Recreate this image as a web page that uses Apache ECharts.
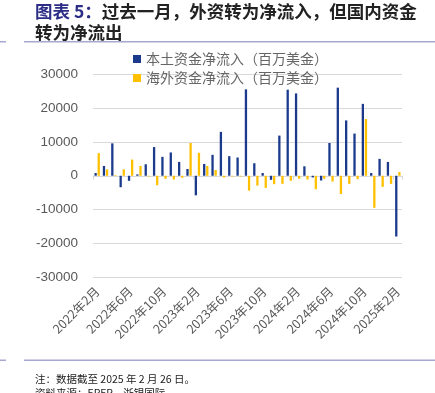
<!DOCTYPE html>
<html>
<head>
<meta charset="utf-8">
<script src="https://cdn.jsdelivr.net/npm/echarts@6/dist/echarts.min.js"></script>
<style>
html,body{margin:0;padding:0;background:#fff;}
#c{width:435px;height:393px;}
</style>
</head>
<body>
<div id="c"></div>
<script>
var months = ['2022年2月','2022年3月','2022年4月','2022年5月','2022年6月','2022年7月','2022年8月','2022年9月','2022年10月','2022年11月','2022年12月',
'2023年1月','2023年2月','2023年3月','2023年4月','2023年5月','2023年6月','2023年7月','2023年8月','2023年9月','2023年10月','2023年11月','2023年12月',
'2024年1月','2024年2月','2024年3月','2024年4月','2024年5月','2024年6月','2024年7月','2024年8月','2024年9月','2024年10月','2024年11月','2024年12月',
'2025年1月','2025年2月'];
var domestic = [800, 2900, 9600, -3400, -1500, 400, 3400, 8500, 5600, 6900, 4100, 2000, -5800, 3500, 6200, 13000, 5800, 5400,
25600, 3700, 800, -1200, 11900, 25500, 24400, 2800, -500, -1400, 9700, 26100, 16400, 12500, 21300, 800, 5000, 4100, -18000];
var foreign = [6700, 1900, 200, 1900, 4800, 2900, -200, -2800, -900, -1100, -600, 9700, 6800, 2900, 1700, -500, -200, -200,
-4400, -2900, -3600, -2500, -2400, -1500, -900, -1100, -4000, -900, -1700, -5400, -2400, -1000, 16800, -9500, -3300, -2400, 1100];
var seriesNames = ['本土资金净流入（百万美金）', '海外资金净流入（百万美金）'];
var yTicks = {min: -30000, max: 30000, interval: 10000};

var chart = echarts.init(document.getElementById('c'), null, {renderer: 'canvas'});
var font = '"Noto Sans CJK SC", "Noto Sans", sans-serif';
chart.setOption({
  animation: false,
  backgroundColor: '#fff',
  title: {
    left: 35, top: 1, padding: 0,
    text: '{a|图表 5：}{b|过去一月，外资转为净流入，但国内资金}\n{b|转为净流出}',
    textStyle: {
      rich: {
        a: {fontSize: 17.5, fontWeight: 'bold', color: '#2b2d86', fontFamily: font, lineHeight: 21},
        b: {fontSize: 17.5, fontWeight: 'bold', color: '#222', fontFamily: font, lineHeight: 21}
      }
    }
  },
  legend: {
    orient: 'vertical', left: 128, top: 47,
    itemWidth: 8, itemHeight: 8, itemGap: 5,
    icon: 'rect',
    textStyle: {fontSize: 14, color: '#666', fontFamily: font, padding: [0,0,0,0]},
    data: seriesNames
  },
  grid: {left: 93, right: 33, top: 74.5, bottom: 116, containLabel: false},
  xAxis: [{
    type: 'category', data: months,
    axisLine: {onZero: true, lineStyle: {color: '#d9d9d9'}},
    axisTick: {show: true, interval: 11, length: 4, lineStyle: {color: '#d9d9d9'}},
    axisLabel: {show: false}
  }, {
    type: 'category', data: months, position: 'bottom',
    axisLine: {show: false, onZero: false}, axisTick: {show: false},
    axisLabel: {interval: 3, rotate: 45, fontSize: 12.5, color: '#595959', fontFamily: font, margin: 12}
  }],
  yAxis: {
    type: 'value', min: yTicks.min, max: yTicks.max, interval: yTicks.interval,
    axisLine: {show: false}, axisTick: {show: false},
    axisLabel: {fontSize: 13.5, color: '#595959', fontFamily: '"Liberation Sans", Arial, sans-serif', margin: 15,
      formatter: function (v) { return String(v); }},
    splitLine: {lineStyle: {color: '#d9d9d9', width: 1}}
  },
  series: [
    {name: seriesNames[0], type: 'bar', xAxisIndex: 0, data: domestic, barWidth: 2.3, barGap: '35%', itemStyle: {color: '#1b3a8c'}},
    {name: seriesNames[1], type: 'bar', xAxisIndex: 0, data: foreign, barWidth: 2.3, barGap: '35%', itemStyle: {color: '#ffc000'}}
  ],
  graphic: [
    {type: 'rect', shape: {x: 24, y: 41, width: 411, height: 1.5}, style: {fill: '#a7a7d2'}},
    {type: 'rect', shape: {x: 0, y: 41, width: 6, height: 1.5}, style: {fill: '#a7a7d2'}},
    {type: 'rect', shape: {x: 24, y: 359.5, width: 411, height: 1.5}, style: {fill: '#a7a7d2'}},
    {type: 'rect', shape: {x: 0, y: 359.5, width: 6, height: 1.5}, style: {fill: '#a7a7d2'}},
    {type: 'text', left: 35, top: 374, style: {text: '注：数据截至 2025 年 2 月 26 日。', fontSize: 10.5, fill: '#222', fontFamily: font}},
    {type: 'text', left: 35, top: 388, style: {text: '资料来源：EPFR，浙银国际', fontSize: 10.5, fill: '#222', fontFamily: font}}
  ]
});
</script>
</body>
</html>
